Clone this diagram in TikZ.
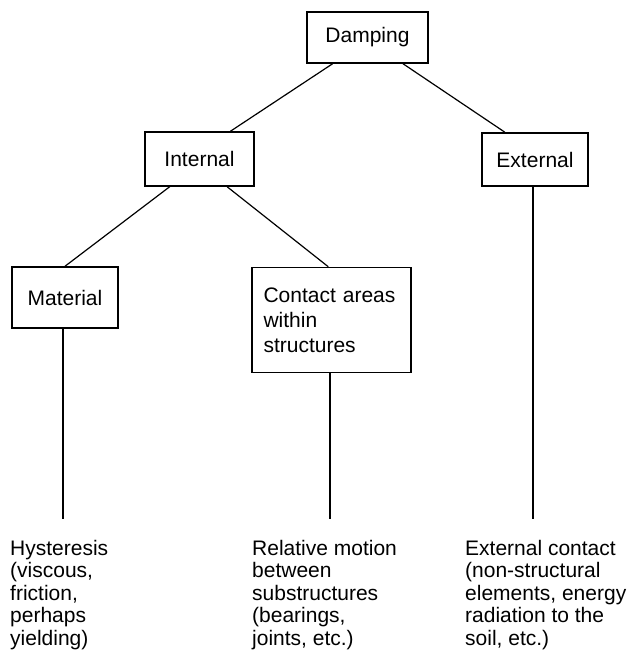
\documentclass[tikz,border=0pt]{standalone}
\usepackage{fontspec}
\setmainfont{Liberation Sans}
\usetikzlibrary{calc}

\begin{document}
\begin{tikzpicture}[x=1pt,y=-1pt,
  box/.style={draw, line width=1.5pt, inner sep=0pt, font=\fontsize{21}{25}\selectfont},
  link/.style={line width=1.2pt},
  leaf/.style={anchor=north west, align=left, inner sep=0pt, font=\fontsize{21}{22.5}\selectfont}]

\useasboundingbox[fill=white] (0,0) rectangle (631,664);

% Boxes
\node[box, minimum width=121, minimum height=51] (damping) at (367.5,37.5) {Damping};
\node[box, minimum width=109, minimum height=54] (internal) at (199.5,159) {Internal};
\node[box, minimum width=106, minimum height=53] (external) at (535,159.5) {External};
\node[box, minimum width=106, minimum height=61] (material) at (65,297.5) {Material};
\node[box, align=left, text width=136, inner xsep=11.5pt, minimum height=105] (contact) at (331.5,320) {Contact areas\\within\\structures};

% Texts at the bottom
\node[leaf] (hyst) at (10,540) {Hysteresis\\(viscous,\\friction,\\perhaps\\yielding)};
\node[leaf] (relmot) at (252,540) {Relative motion\\between\\substructures\\(bearings,\\joints, etc.)};
\node[leaf] (extcon) at (465,540) {External contact\\(non-structural\\elements, energy\\radiation to the\\soil, etc.)};

\coordinate (matend) at (63,519);
\coordinate (conend) at (330,519);
\coordinate (extend) at (533,519);

% Tree lines
\draw[link] ($(damping.south west)!0.215!(damping.south east)$) -- ($(internal.north west)!0.78!(internal.north east)$);
\draw[link] ($(damping.south west)!0.79!(damping.south east)$) -- ($(external.north west)!0.22!(external.north east)$);
\draw[link] ($(internal.south west)!0.23!(internal.south east)$) -- (material.north);
\draw[link] ($(internal.south west)!0.75!(internal.south east)$) -- ($(contact.north west)!0.48!(contact.north east)$);

% Down to the texts
\draw[link] (material.south -| matend) -- (matend);
\draw[link] (contact.south -| conend) -- (conend);
\draw[link] (external.south -| extend) -- (extend);
\end{tikzpicture}
\end{document}
